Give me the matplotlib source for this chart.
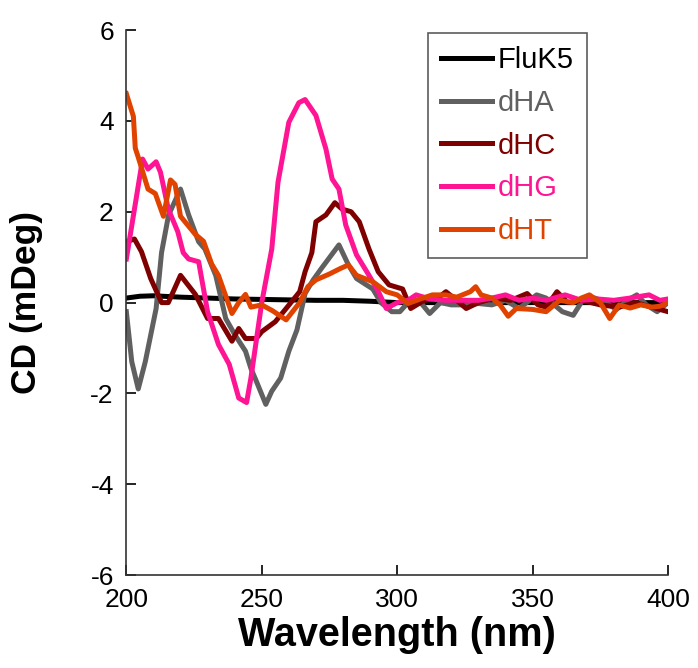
import matplotlib
matplotlib.use("Agg")
import matplotlib.pyplot as plt

plt.rcParams['font.family'] = ['Liberation Sans', 'DejaVu Sans']
plt.rcParams['axes.unicode_minus'] = False

# CD spectra (wavelength in nm, CD in mDeg)
fluk5_wl = [200, 205, 210, 220, 230, 240, 250, 260, 270, 280, 290, 300, 320, 340, 360, 380, 400]
fluk5_cd = [0.1, 0.14, 0.15, 0.12, 0.1, 0.08, 0.07, 0.06, 0.05, 0.05, 0.03, 0.0, 0.0, 0.0, 0.0, 0.0, 0.0]

dha_wl = [200, 202, 204.4, 207, 211, 213, 215.6, 220, 223, 226.7, 229, 233, 236.7, 240, 244, 246, 248,
          251.5, 253.7, 257, 260, 263, 266, 269, 272, 278.5, 282, 285, 291, 294, 298, 301, 304, 308,
          312, 316, 320, 325, 330, 335, 340, 345, 351.5, 355, 361, 365, 369, 373, 377, 381, 385,
          388.5, 392, 396, 400]
dha_cd = [-0.2, -1.3, -1.9, -1.3, -0.13, 1.1, 1.93, 2.5, 1.93, 1.34, 1.18, 0.6, -0.35, -0.7, -1.07,
          -1.45, -1.73, -2.24, -1.95, -1.66, -1.07, -0.6, 0.2, 0.5, 0.75, 1.27, 0.83, 0.53, 0.3, 0.0,
          -0.2, -0.2, 0.0, 0.05, -0.24, 0.0, -0.05, -0.05, -0.02, -0.05, 0.05, -0.13, 0.17, 0.1, -0.2,
          -0.28, 0.1, 0.1, 0.0, -0.15, 0.05, 0.17, -0.05, -0.2, 0.0]

dhc_wl = [200, 203, 205.6, 209, 213, 215.5, 220, 225.5, 230, 234, 239, 241.5, 244, 248, 250, 255, 259,
          264, 266, 268.5, 270, 273.7, 277, 279.6, 283, 286, 289.6, 293, 297, 302, 305, 310, 315, 318,
          322, 325.5, 330, 336, 342, 348, 352, 355, 359, 363, 368, 375, 382, 388, 394, 400]
dhc_cd = [1.34, 1.4, 1.12, 0.53, 0.0, 0.0, 0.6, 0.18, -0.35, -0.35, -0.85, -0.57, -0.79, -0.79, -0.64,
          -0.42, -0.13, 0.24, 0.68, 1.1, 1.78, 1.93, 2.2, 2.06, 2.0, 1.78, 1.18, 0.68, 0.39, 0.3, -0.13,
          0.05, 0.1, 0.24, 0.05, -0.13, 0.0, 0.1, 0.05, 0.2, -0.05, -0.1, 0.24, 0.0, 0.05, -0.05, -0.1,
          0.0, -0.1, -0.2]

dhg_wl = [200, 203, 206, 208, 211, 212.6, 215.5, 219, 221, 223, 226.7, 230, 234, 238, 241.5, 244.4, 246,
          250, 253.7, 256, 260, 263.7, 266, 270, 273.7, 276, 278.5, 281, 285, 289.6, 293, 296, 300, 304,
          307, 312, 318, 324, 330, 335, 340, 345, 350, 355, 362, 368, 374, 380, 386, 393, 397, 400]
dhg_cd = [0.96, 2.06, 3.16, 2.94, 3.1, 2.87, 2.06, 1.56, 1.1, 0.96, 0.9, -0.2, -0.92, -1.36, -2.1, -2.2,
          -1.66, 0.0, 1.18, 2.65, 3.97, 4.4, 4.47, 4.12, 3.38, 2.72, 2.5, 1.71, 1.05, 0.6, 0.25, -0.13,
          0.0, 0.05, 0.17, 0.08, 0.05, 0.05, 0.05, 0.1, 0.17, 0.05, 0.1, 0.05, 0.17, 0.05, 0.08, 0.05,
          0.1, 0.17, 0.05, 0.08]

dht_wl = [200, 202.6, 203.3, 204.4, 208, 210.7, 213.7, 216.3, 218, 220, 225.5, 228.5, 231.5, 234, 239,
          241.5, 244, 246, 250, 254, 259, 264, 267, 270, 275, 279, 282, 285, 291, 296, 300, 304, 309,
          313, 318, 322, 327, 329, 331, 335, 338, 341, 344, 350, 355, 360, 365, 368, 371, 375, 378.5,
          382, 386, 390, 394, 397, 400]
dht_cd = [4.6, 4.1, 3.4, 3.2, 2.5, 2.4, 1.9, 2.7, 2.6, 1.9, 1.5, 1.35, 0.85, 0.6, -0.24, 0.0, 0.18, -0.1,
          -0.05, -0.18, -0.38, 0.0, 0.35, 0.5, 0.63, 0.75, 0.83, 0.6, 0.46, 0.24, 0.17, -0.02, 0.09,
          0.17, 0.17, 0.12, 0.24, 0.35, 0.17, 0.1, -0.05, -0.3, -0.13, -0.15, -0.2, 0.05, 0.0, 0.1, 0.17,
          0.0, -0.35, -0.05, -0.12, -0.05, -0.1, -0.08, 0.0]

series = [
    ("FluK5", fluk5_wl, fluk5_cd, "#000000"),
    ("dHA", dha_wl, dha_cd, "#606060"),
    ("dHC", dhc_wl, dhc_cd, "#7f0000"),
    ("dHG", dhg_wl, dhg_cd, "#ff1493"),
    ("dHT", dht_wl, dht_cd, "#e04300"),
]

fig = plt.figure(figsize=(6.98, 6.68), dpi=100)
ax = fig.add_axes([0.181, 0.139, 0.776, 0.816])

for name, wl, cd, col in series:
    ax.plot(wl, cd, color=col, lw=3.6, label=name, solid_joinstyle="round")

ax.set_xlim(200, 400)
ax.set_ylim(-6, 6)
ax.set_xticks([200, 250, 300, 350, 400])
ax.set_yticks([-6, -4, -2, 0, 2, 4, 6])
ax.tick_params(direction="in", length=7, width=1.2, labelsize=19, pad=9, colors="black")
for s in ("top", "right"):
    ax.spines[s].set_visible(False)
for s in ("left", "bottom"):
    ax.spines[s].set_linewidth(1.2)
    ax.spines[s].set_color("#333333")

ax.set_xlabel("Wavelength (nm)", fontsize=28.5, fontweight="bold", labelpad=3)
ax.set_ylabel("CD (mDeg)", fontsize=25.5, fontweight="bold")
ax.yaxis.set_label_coords(-0.153, 0.5)

leg = ax.legend(loc="upper left", bbox_to_anchor=(0.557, 0.994), fontsize=21, frameon=True,
                fancybox=False, edgecolor="#333333", handlelength=1.75, handletextpad=0.2,
                labelspacing=0.5, borderpad=0.45, borderaxespad=0)
leg.get_frame().set_linewidth(1.2)
for txt, (_, _, _, col) in zip(leg.get_texts(), series):
    txt.set_color(col)

fig.savefig("out.png", dpi=100)
